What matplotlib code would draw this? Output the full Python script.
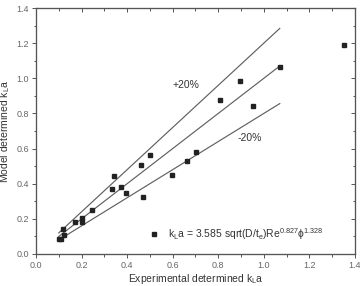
import matplotlib
matplotlib.use("Agg")
import matplotlib.pyplot as plt
from matplotlib.ticker import MultipleLocator

plt.rcParams['font.family'] = ['Liberation Sans', 'DejaVu Sans']
plt.rcParams['mathtext.default'] = 'regular'

# experimental vs model k_L a
x_exp = [0.102, 0.110, 0.117, 0.123, 0.171, 0.200, 0.200, 0.244, 0.332, 0.342,
         0.374, 0.394, 0.461, 0.469, 0.500, 0.598, 0.661, 0.701, 0.807, 0.895,
         0.953, 1.072, 1.350]
y_model = [0.084, 0.087, 0.141, 0.106, 0.182, 0.205, 0.182, 0.250, 0.370, 0.444,
           0.380, 0.349, 0.505, 0.326, 0.562, 0.452, 0.529, 0.581, 0.875, 0.985,
           0.844, 1.064, 1.191]

# parity lines (+20%, 0, -20%)
line_x = [0.1, 1.07]
line_factors = [1.2, 1.0, 0.8]

xticks = [0.0, 0.2, 0.4, 0.6, 0.8, 1.0, 1.2, 1.4]
yticks = [0.0, 0.2, 0.4, 0.6, 0.8, 1.0, 1.2, 1.4]

fig = plt.figure(figsize=(3.6, 2.86), dpi=100)
ax = fig.add_axes([0.1, 0.112, 0.886, 0.86])

gray = '#555555'
for f in line_factors:
    ax.plot(line_x, [f * v for v in line_x], '-', color='#606060', lw=0.85)

pts, = ax.plot(x_exp, y_model, 's', color='#222222', ms=2.8, ls='none',
               label=r'k$_L$a = 3.585 sqrt(D/t$_e$)Re$^{0.827}$$\phi^{1.328}$')

ax.text(0.66, 0.96, '+20%', fontsize=7.5, color='#333333', ha='center', va='center')
ax.text(0.94, 0.66, '-20%', fontsize=7.5, color='#333333', ha='center', va='center')

ax.set_xlim(0, 1.4)
ax.set_ylim(0, 1.4)
ax.set_xticks(xticks)
ax.set_yticks(yticks)
ax.xaxis.set_minor_locator(MultipleLocator(0.1))
ax.yaxis.set_minor_locator(MultipleLocator(0.1))
ax.tick_params(which='both', direction='out', color=gray, labelsize=6.5,
               labelcolor='#666666', width=0.7, pad=2)
ax.tick_params(which='major', length=3)
ax.tick_params(which='minor', length=1.8)

# mirrored ticks on top and right pointing inward
axt = ax.twiny()
axt.set_xlim(ax.get_xlim())
axt.set_xticks(xticks)
axt.xaxis.set_minor_locator(MultipleLocator(0.1))
axt.tick_params(which='both', direction='in', labeltop=False, color=gray, width=0.7)
axt.tick_params(which='major', length=3)
axt.tick_params(which='minor', length=1.8)
axr = ax.twinx()
axr.set_ylim(ax.get_ylim())
axr.set_yticks(yticks)
axr.yaxis.set_minor_locator(MultipleLocator(0.1))
axr.tick_params(which='both', direction='in', labelright=False, color=gray, width=0.7)
axr.tick_params(which='major', length=3)
axr.tick_params(which='minor', length=1.8)

for a in (ax, axt, axr):
    for s in a.spines.values():
        s.set_color(gray)
        s.set_linewidth(0.8)

ax.set_xlabel(r'Experimental determined k$_L$a', fontsize=7.5, color='#333333', labelpad=1.5)
ax.set_ylabel(r'Model determined k$_L$a', fontsize=7.5, color='#333333', labelpad=3)

leg = ax.legend(handles=[pts], loc='lower right', bbox_to_anchor=(0.93, 0.01),
                frameon=False, fontsize=7.5, handlelength=1.0, handletextpad=0.8,
                labelcolor='#333333')

fig.savefig('out.png', dpi=100)
